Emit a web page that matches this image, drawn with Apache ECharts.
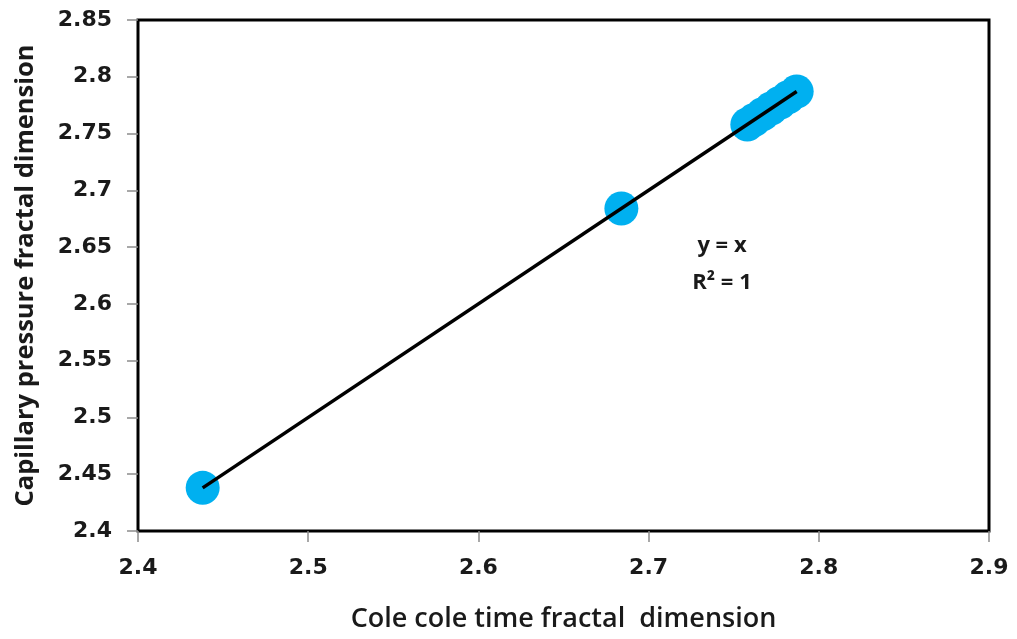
<!DOCTYPE html>
<html>
<head>
<meta charset="utf-8">
<script src="https://cdn.jsdelivr.net/npm/echarts@6/dist/echarts.min.js"></script>
<style>
  html, body { margin: 0; padding: 0; background: #fff; }
  #chart { width: 1017px; height: 639px; }
</style>
</head>
<body>
<div id="chart"></div>
<script>
// Fractal dimension pairs: Cole-Cole time (x) vs capillary pressure (y)
const coleColeDim = [2.438, 2.684, 2.758, 2.762, 2.767, 2.772, 2.777, 2.782, 2.787];
const capillaryDim = [2.438, 2.684, 2.758, 2.762, 2.767, 2.772, 2.777, 2.782, 2.787];

// Fitted trend line y = x across the data range
const trendX = [2.438, 2.787];
const trendY = [2.438, 2.787];

const xAxisRange = { min: 2.4, max: 2.9, step: 0.1 };
const yAxisRange = { min: 2.4, max: 2.85, step: 0.05 };

const xTitle = 'Cole cole time fractal  dimension';
const yTitle = 'Capillary pressure fractal dimension';
const fitEquation = 'y = x';
const fitR2 = 'R² = 1';

const points = coleColeDim.map((x, i) => [x, capillaryDim[i]]);
const trend = trendX.map((x, i) => [x, trendY[i]]);

const tickFmt = v => String(+Number(v).toFixed(2));
const tickFont = { fontFamily: 'DejaVu Sans', fontWeight: 'bold', fontSize: 22, color: '#1a1a1a' };
const noteFont = { fontFamily: 'Open Sans', fontWeight: 'bold', fontSize: 22, fill: '#1a1a1a' };

const chart = echarts.init(document.getElementById('chart'));
chart.setOption({
  animation: false,
  backgroundColor: '#ffffff',
  grid: {
    left: 138, right: 28, top: 20, bottom: 108,
    show: true, borderColor: '#000000', borderWidth: 3, backgroundColor: 'transparent'
  },
  xAxis: {
    type: 'value',
    min: xAxisRange.min, max: xAxisRange.max, interval: xAxisRange.step,
    axisLine: { show: false },
    axisTick: { show: true, inside: false, length: 11, lineStyle: { color: '#8c8c8c', width: 1.5 } },
    splitLine: { show: false },
    axisLabel: Object.assign({ margin: 26, formatter: tickFmt }, tickFont),
    name: xTitle,
    nameLocation: 'middle',
    nameGap: 75,
    nameTextStyle: { fontFamily: 'Open Sans', fontWeight: 600, fontSize: 27, color: '#1a1a1a' }
  },
  yAxis: {
    type: 'value',
    min: yAxisRange.min, max: yAxisRange.max, interval: yAxisRange.step,
    axisLine: { show: false },
    axisTick: { show: true, inside: false, length: 11, lineStyle: { color: '#8c8c8c', width: 1.5 } },
    splitLine: { show: false },
    axisLabel: Object.assign({ margin: 26, formatter: tickFmt }, tickFont),
    name: yTitle,
    nameLocation: 'middle',
    nameGap: 99,
    nameTextStyle: { fontFamily: 'Open Sans', fontWeight: 'bold', fontSize: 25.5, color: '#1a1a1a' }
  },
  series: [
    {
      type: 'scatter',
      data: points,
      symbol: 'circle',
      symbolSize: 34,
      itemStyle: { color: '#00B0F0', opacity: 1 },
      z: 2
    },
    {
      type: 'line',
      data: trend,
      showSymbol: false,
      symbol: 'none',
      lineStyle: { color: '#000000', width: 3.5 },
      z: 3
    }
  ],
  graphic: [
    {
      type: 'text', x: 722, y: 246,
      style: Object.assign({ text: fitEquation, align: 'center', verticalAlign: 'middle' }, noteFont)
    },
    {
      type: 'text', x: 722, y: 283,
      style: Object.assign({ text: fitR2, align: 'center', verticalAlign: 'middle' }, noteFont)
    }
  ]
});
</script>
</body>
</html>
